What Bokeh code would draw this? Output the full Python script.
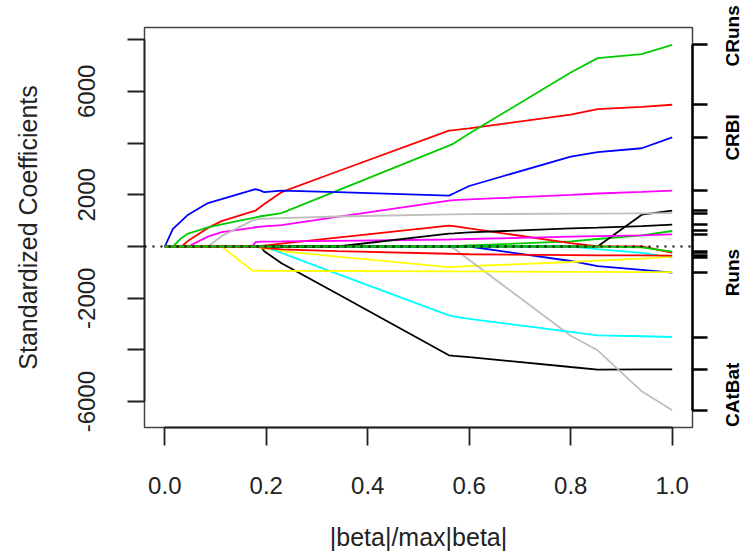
import math
from bokeh.plotting import figure
from bokeh.models import Range1d, LinearAxis, FixedTicker, Span
from bokeh.embed import file_html
from bokeh.resources import INLINE

# lasso path breakpoints (|beta|/max|beta|)
STEPS = [0, 0.016, 0.033, 0.046, 0.085, 0.112, 0.172, 0.179, 0.189, 0.196,
         0.23, 0.34, 0.56, 0.57, 0.60, 0.80, 0.853, 0.94, 1.0]

AtBat     = [0, 0, 0, 0, 0, 0, 0, 0, 0, -180, -650, -1830, -4208, -4230, -4280, -4660, -4760, -4755, -4750]
Hits      = [0, 0, 0, 220, 720, 980, 1350, 1390, 1540, 1640, 2100, 2900, 4479, 4500, 4570, 5100, 5317, 5400, 5483]
HmRun     = [0, 0, 0, 0, 0, 0, 0, 0, 0, 0, 0, 0, 0, 10, 40, 200, 290, 430, 600]
Runs      = [0, 0, 0, 0, 0, 0, 0, 0, 0, 0, 0, 0, 0, 0, 0, -560, -760, -900, -1010]
RBI       = [0, 0, 0, 0, 0, 0, 0, 0, 0, 0, 0, 0, 0, 0, 0, 0, -100, -250, -430]
Walks     = [0, 0, 0, 0, 380, 560, 720, 745, 770, 780, 830, 1145, 1776, 1790, 1820, 2000, 2050, 2110, 2162]
Years     = [0, 0, 0, 0, 0, 0, 0, 0, -40, -80, -180, -390, -800, -790, -760, -600, -550, -470, -390]
CAtBat    = [0, 0, 0, 0, 0, 0, 0, 0, 0, 0, 0, 0, 0, -80, -520, -3450, -4015, -5600, -6332]
CHits     = [0, 0, 0, 0, 0, 0, 0, 0, 0, 0, 0, 0, 0, 0, 0, 0, 0, 1230, 1390]
CHmRun    = [0, 0, 0, 0, 0, 0, 0, 0, 20, 37, 110, 344, 811, 790, 700, 130, 0, 0, -240]
CRuns     = [0, 0, 330, 500, 740, 860, 1100, 1131, 1170, 1190, 1290, 2160, 3900, 3990, 4370, 6730, 7286, 7440, 7799]
CRBI      = [0, 680, 990, 1230, 1680, 1830, 2180, 2220, 2160, 2100, 2160, 2100, 1970, 2060, 2340, 3480, 3650, 3800, 4220]
CWalks    = [0, 0, 0, 0, 0, 0, 0, 0, 0, 0, -250, -1055, -2664, -2700, -2800, -3300, -3436, -3470, -3500]
LeagueN   = [0, 0, 0, 0, 0, 0, 0, 170, 185, 190, 195, 220, 270, 275, 290, 380, 400, 430, 470]
DivisionW = [0, 0, 0, 0, 0, 0, -930, -935, -938, -940, -942, -948, -960, -961, -963, -980, -985, -990, -990]
PutOuts   = [0, 0, 0, 0, 0, 400, 1000, 1040, 1070, 1080, 1100, 1160, 1240, 1242, 1250, 1270, 1275, 1285, 1290]
Assists   = [0, 0, 0, 0, 0, 0, 0, 0, 0, 0, 0, 0, 500, 510, 550, 700, 730, 790, 850]
Errors    = [0, 0, 0, 0, 0, 0, 0, 0, -30, -50, -110, -180, -280, -285, -300, -330, -340, -345, -350]
NewLeagueN = [0, 0, 0, 0, 0, 0, 0, 0, 0, 0, 0, 0, 0, 0, 0, 0, 0, -30, -200]

NAMES = ["AtBat", "Hits", "HmRun", "Runs", "RBI", "Walks", "Years", "CAtBat", "CHits",
         "CHmRun", "CRuns", "CRBI", "CWalks", "LeagueN", "DivisionW", "PutOuts",
         "Assists", "Errors", "NewLeagueN"]
SERIES = [AtBat, Hits, HmRun, Runs, RBI, Walks, Years, CAtBat, CHits, CHmRun, CRuns,
          CRBI, CWalks, LeagueN, DivisionW, PutOuts, Assists, Errors, NewLeagueN]
PALETTE = ["#000000", "#FF0000", "#00CD00", "#0000FF", "#00FFFF", "#FF00FF", "#FFFF00", "#BEBEBE"]
SHOWN = ["CRuns", "CRBI", "Runs", "CAtBat"]

Y_TICKS = [-6000, -4000, -2000, 0, 2000, 4000, 6000, 8000]
Y_LABELED = [-6000, -2000, 2000, 6000]
X_TICKS = [0, 0.2, 0.4, 0.6, 0.8, 1.0]

FONT = "Liberation Sans"
Y0, Y1 = -7000, 8470
FRAME_H = 400

p = figure(width=756, height=555, output_backend="svg", toolbar_location=None,
           x_range=Range1d(-0.04, 1.04), y_range=Range1d(Y0, Y1),
           min_border_left=144, min_border_right=64, min_border_top=27,
           min_border_bottom=128)
p.background_fill_color = "white"
p.border_fill_color = "white"
p.xgrid.visible = False
p.ygrid.visible = False
p.outline_line_color = "#444444"
p.outline_line_width = 1.5

for i, (name, ys) in enumerate(zip(NAMES, SERIES)):
    p.line(STEPS, ys, line_color=PALETTE[i % len(PALETTE)], line_width=1.8)

p.add_layout(Span(location=0, dimension="width", line_color="#000000",
                  line_dash="2 6", line_width=1.8))

def style_axis(ax, tick_out, font_size, standoff):
    ax.major_tick_in = 0
    ax.major_tick_out = tick_out
    ax.minor_tick_line_color = None
    ax.axis_line_color = "#222222"
    ax.axis_line_width = 1.8
    ax.major_tick_line_color = "#222222"
    ax.major_tick_line_width = 1.8
    ax.major_label_text_font = FONT
    ax.major_label_text_font_size = font_size
    ax.major_label_text_color = "#222222"
    ax.major_label_standoff = standoff

# bottom axis
xa = p.xaxis[0]
xa.ticker = FixedTicker(ticks=X_TICKS)
xa.major_label_overrides = {t: "%.1f" % t for t in X_TICKS}
xa.bounds = (0, 1)
style_axis(xa, 18, "24px", 31)
xa.axis_label = "|beta|/max|beta|"
xa.axis_label_text_font = FONT
xa.axis_label_text_font_size = "25px"
xa.axis_label_text_font_style = "normal"
xa.axis_label_text_color = "#222222"
xa.axis_label_standoff = 26

# left axis
ya = p.yaxis[0]
ya.ticker = FixedTicker(ticks=Y_TICKS)
ya.major_label_overrides = {t: (str(t) if t in Y_LABELED else "") for t in Y_TICKS}
ya.bounds = (min(Y_TICKS), max(Y_TICKS))
style_axis(ya, 17, "24px", 32)
ya.major_label_orientation = "vertical"
ya.axis_label = "Standardized Coefficients"
ya.axis_label_text_font = FONT
ya.axis_label_text_font_size = "25px"
ya.axis_label_text_font_style = "normal"
ya.axis_label_text_color = "#222222"
ya.axis_label_standoff = 34

# right axis: ticks at the final coefficients
final = [s[-1] for s in SERIES]
ra = LinearAxis(ticker=FixedTicker(ticks=final), bounds=(min(final), max(final)))
ra.major_label_overrides = {v: "" for v in final}
style_axis(ra, 15, "1px", 1)
ra.axis_line_width = 2.5
ra.major_tick_line_width = 2.5
ra.axis_line_color = "#000000"
ra.major_tick_line_color = "#000000"
p.add_layout(ra, "right")

# second right axis carries the variable names, read bottom-to-top and
# centred on their final coefficients (a label starts at its tick, so the
# tick is moved down by half the label length; kept inside the frame)
LABEL_PX = 19
BOLD_EM = {"CRuns": 3.222, "CRBI": 2.444, "Runs": 2.5, "CAtBat": 3.388}
LABEL_NUDGE_PX = {"CRuns": 9, "CAtBat": 7}
units_per_px = (Y1 - Y0) / FRAME_H
name_ticks = []
name_map = {}
for v, n in zip(final, NAMES):
    if n in SHOWN:
        half = BOLD_EM[n] * LABEL_PX / 2.0
        t = v + (LABEL_NUDGE_PX.get(n, 0) - half) * units_per_px
        t = max(t, Y0 + 0.5 * units_per_px)
        name_ticks.append(t)
        name_map[t] = n
la = LinearAxis(ticker=FixedTicker(ticks=name_ticks))
la.major_label_overrides = name_map
la.axis_line_color = None
la.major_tick_line_color = None
la.minor_tick_line_color = None
la.major_tick_in = 0
la.major_tick_out = 0
la.major_label_standoff = 25
la.major_label_text_font = FONT
la.major_label_text_font_size = "%dpx" % LABEL_PX
la.major_label_text_font_style = "bold"
la.major_label_text_color = "#000000"
la.major_label_orientation = math.pi / 2
p.add_layout(la, "right")

open("out.html", "w").write(file_html(p, INLINE))
